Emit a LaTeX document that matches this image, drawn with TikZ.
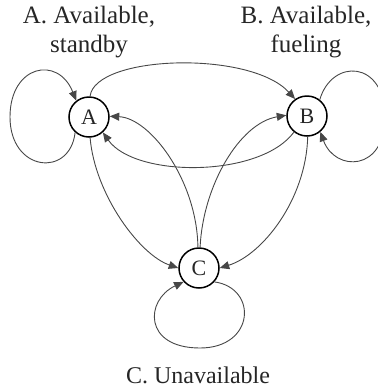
\documentclass[tikz,border=0pt]{standalone}
\usepackage{fontspec}
\setmainfont{Liberation Serif}
\usetikzlibrary{arrows.meta}
\begin{document}
\begin{tikzpicture}[x=1pt,y=-1pt,
  state/.style={circle,draw=black,line width=1.5pt,fill=white,minimum size=40pt,inner sep=0pt,
    font=\fontsize{22}{24}\selectfont,text=black!85},
  caption/.style={font=\fontsize{25}{29}\selectfont,text=black!85,inner sep=0pt,align=center},
  trans/.style={draw=black!72,line width=0.9pt,-{Triangle[length=9.5pt,width=8pt]}}]
\useasboundingbox (0,0) rectangle (378,392);
\clip (0,0) rectangle (378,392);

% states
\node[state] (A) at (89,117) {A};
\node[state] (B) at (307,116) {B};
\node[state] (C) at (199,268) {C};

% captions
\node[caption,anchor=north] (la) at (89,6) {A. Available,\\standby};
\node[caption,anchor=north] (lb) at (306,6) {B. Available,\\fueling};
\node[caption,anchor=base,font=\fontsize{24}{28}\selectfont] (lc) at (198,383) {C. Unavailable};

% transitions between states
\draw[trans] (A.87) .. controls (95,55) and (250,50) .. (B.125);
\draw[trans] (B.231) .. controls (260,178) and (135,178) .. (A.312);
\draw[trans] (C.93) .. controls (197,180) and (150,118) .. (A.2);
\draw[trans] (C.87) .. controls (203,185) and (240,123) .. (B.178);
\draw[trans] (A.273) .. controls (95,195) and (140,255) .. (C.180);
\draw[trans] (B.272) .. controls (306,200) and (262,255) .. (C.0);

% self loops
\draw[trans] (A.228) .. controls (70,178) and (10,172) .. (10,117)
  .. controls (10,65) and (58,55) .. (A.128);
\draw[trans] (B.52) .. controls (332,58) and (385,60) .. (385,117)
  .. controls (385,172) and (335,172) .. (B.-50);
\draw[trans] (C.-42) .. controls (258,288) and (255,348) .. (200,348)
  .. controls (143,348) and (145,300) .. (C.-138);
\end{tikzpicture}
\end{document}
